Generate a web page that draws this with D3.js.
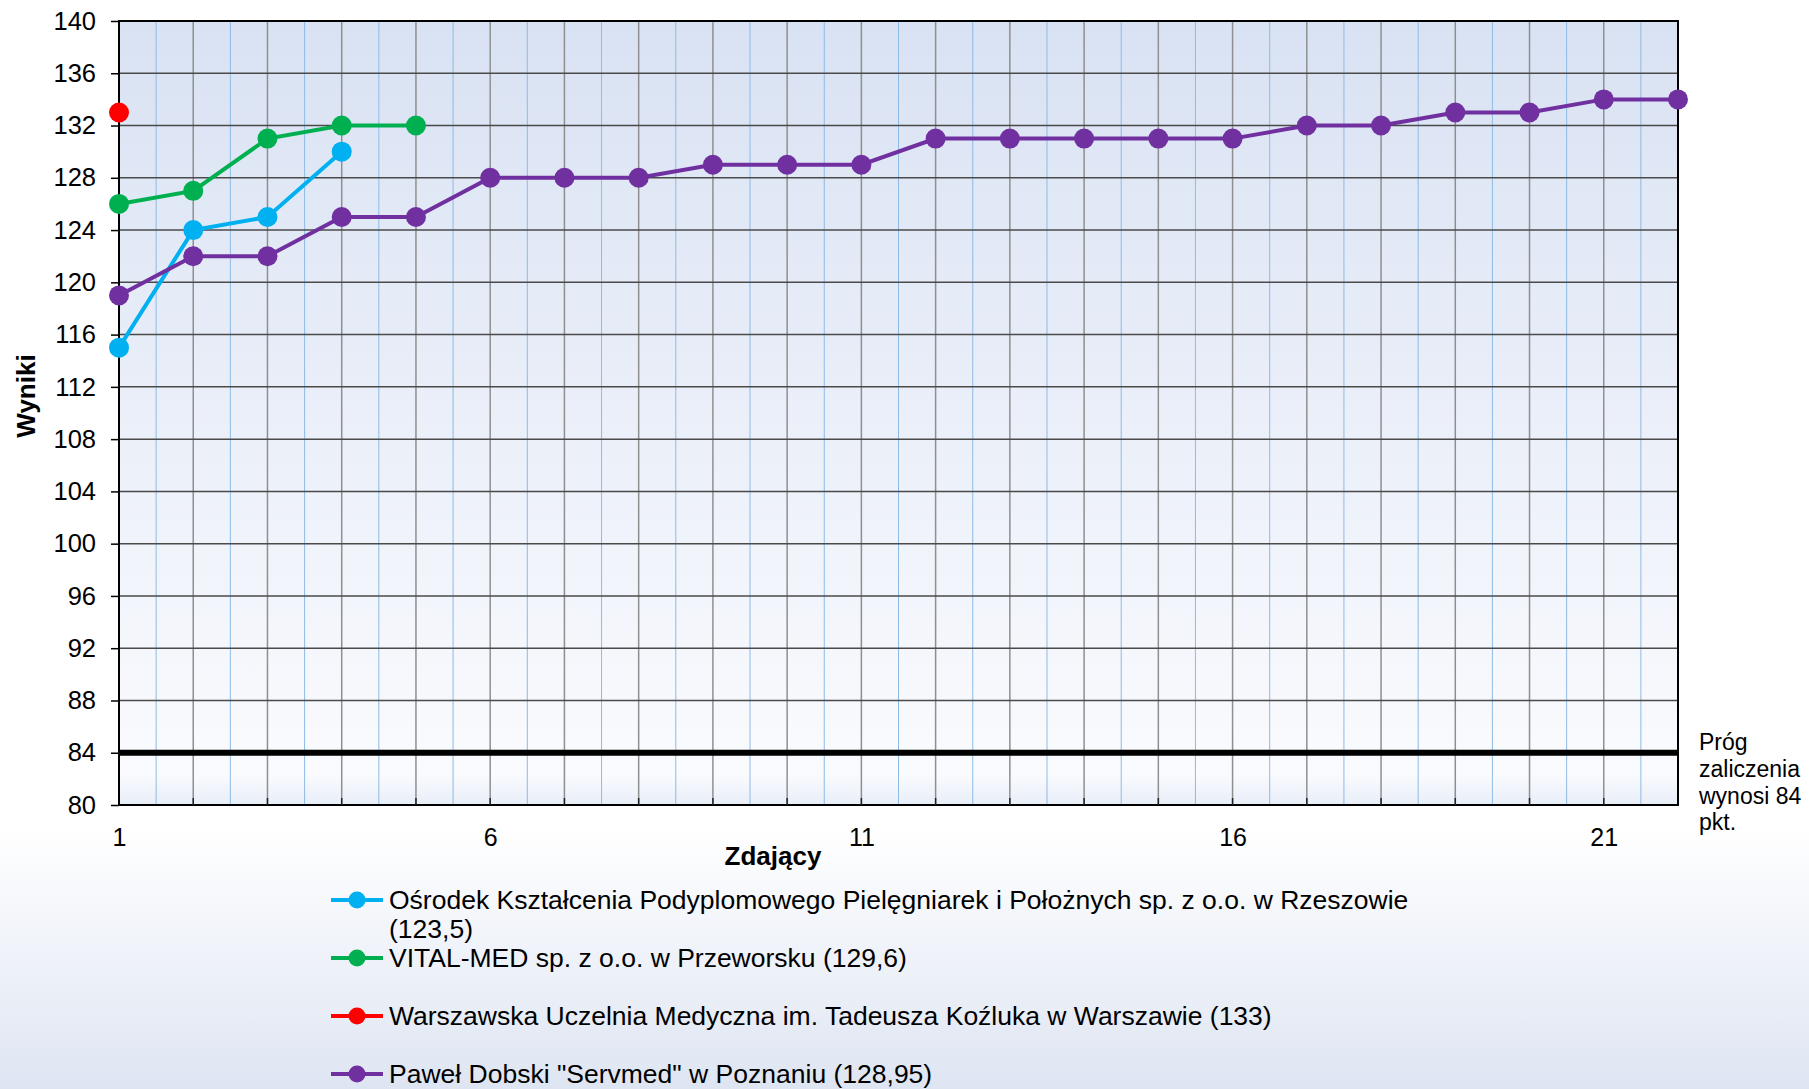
<!DOCTYPE html>
<html>
<head>
<meta charset="utf-8">
<script src="https://cdn.jsdelivr.net/npm/d3@7"></script>
<style>
  body { margin: 0; }
  svg { display: block; font-family: "Liberation Sans", Arial, sans-serif; }
</style>
</head>
<body>
<div class="chart"></div>
<script>
var w = 1809;
var h = 1089;

// data
var seriesNames = [
  "Ośrodek Kształcenia Podyplomowego Pielęgniarek i Położnych sp. z o.o. w Rzeszowie (123,5)",
  "VITAL-MED sp. z o.o. w Przeworsku (129,6)",
  "Warszawska Uczelnia Medyczna im. Tadeusza Koźluka w Warszawie (133)",
  "Paweł Dobski \"Servmed\" w Poznaniu (128,95)"
];
var seriesColors = ["#00b0f0", "#00b050", "#ff0000", "#7030a0"];
var osrodekValues = [115, 124, 125, 130];
var vitalValues = [126, 127, 131, 132, 132];
var wumValues = [133];
var servmedValues = [119, 122, 122, 125, 125, 128, 128, 128, 129, 129, 129, 131, 131, 131, 131, 131, 132, 132, 133, 133, 134, 134];
var xTicks = [1, 6, 11, 16, 21];
var yTicks = [80, 84, 88, 92, 96, 100, 104, 108, 112, 116, 120, 124, 128, 132, 136, 140];
var threshold = 84;
var thresholdLabel = ["Próg", "zaliczenia", "wynosi 84", "pkt."];

var allSeries = [osrodekValues, vitalValues, wumValues, servmedValues];

var margin = {left: 119, right: 131, top: 21, bottom: 284};
var pw = w - margin.left - margin.right;
var ph = h - margin.top - margin.bottom;

var svg = d3.select(".chart")
  .append("svg")
  .attr("width", w)
  .attr("height", h);

var defs = svg.append("defs");
var bgGrad = defs.append("linearGradient")
  .attr("id", "bgGrad").attr("x1", 0).attr("y1", 0).attr("x2", 0).attr("y2", 1);
bgGrad.append("stop").attr("offset", "0%").attr("stop-color", "#ffffff");
bgGrad.append("stop").attr("offset", "76%").attr("stop-color", "#ffffff");
bgGrad.append("stop").attr("offset", "100%").attr("stop-color", "#dee5f2");

var plotGrad = defs.append("linearGradient")
  .attr("id", "plotGrad").attr("x1", 0).attr("y1", 0).attr("x2", 0).attr("y2", 1);
plotGrad.append("stop").attr("offset", "0%").attr("stop-color", "#d9e2f3");
plotGrad.append("stop").attr("offset", "96%").attr("stop-color", "#fafbfe");
plotGrad.append("stop").attr("offset", "100%").attr("stop-color", "#e8eef8");

svg.append("rect")
  .attr("width", w)
  .attr("height", h)
  .attr("fill", "url(#bgGrad)");

var x = d3.scaleLinear().domain([1, 22]).range([margin.left, margin.left + pw]);
var y = d3.scaleLinear().domain([80, 140]).range([margin.top + ph, margin.top]);

svg.append("rect")
  .attr("x", x(1))
  .attr("y", y(140))
  .attr("width", pw)
  .attr("height", ph)
  .attr("fill", "url(#plotGrad)");

// minor vertical grid (half steps)
var minorX = d3.range(1.5, 22, 1);
svg.append("g").selectAll("line")
  .data(minorX)
  .enter().append("line")
  .attr("x1", function(d) { return x(d); })
  .attr("x2", function(d) { return x(d); })
  .attr("y1", y(140))
  .attr("y2", y(80))
  .attr("stroke", "#8dbbe6")
  .attr("stroke-width", 1);

// major vertical grid
var majorX = d3.range(2, 22, 1);
svg.append("g").selectAll("line")
  .data(majorX)
  .enter().append("line")
  .attr("x1", function(d) { return x(d); })
  .attr("x2", function(d) { return x(d); })
  .attr("y1", y(140))
  .attr("y2", y(80))
  .attr("stroke", "#8f8f8f")
  .attr("stroke-width", 1.5);

// horizontal grid
svg.append("g").selectAll("line")
  .data(yTicks.slice(1, -1))
  .enter().append("line")
  .attr("x1", x(1))
  .attr("x2", x(22))
  .attr("y1", function(d) { return y(d); })
  .attr("y2", function(d) { return y(d); })
  .attr("stroke", "#4a4a4a")
  .attr("stroke-width", 1.5);

// threshold line
svg.append("line")
  .attr("x1", x(1))
  .attr("x2", x(22))
  .attr("y1", y(threshold))
  .attr("y2", y(threshold))
  .attr("stroke", "#000000")
  .attr("stroke-width", 6);

// plot border
svg.append("rect")
  .attr("x", x(1))
  .attr("y", y(140))
  .attr("width", pw)
  .attr("height", ph)
  .attr("fill", "none")
  .attr("stroke", "#000000")
  .attr("stroke-width", 2);

// y axis
var yAxis = d3.axisLeft(y).tickValues(yTicks).tickSize(8).tickPadding(15);
var yg = svg.append("g")
  .attr("transform", "translate(" + x(1) + ",0)")
  .call(yAxis);
yg.select(".domain").remove();
yg.selectAll("line").attr("stroke", "#000").attr("stroke-width", 1.5);
yg.selectAll("text")
  .style("font-size", "25.5px")
  .style("font-family", "'Liberation Sans', Arial, sans-serif")
  .attr("fill", "#000");

// x axis
var xAxis = d3.axisBottom(x).tickValues(xTicks).tickSize(0).tickPadding(23);
var xg = svg.append("g")
  .attr("transform", "translate(0," + y(80) + ")")
  .call(xAxis);
xg.select(".domain").remove();
xg.selectAll("text")
  .style("font-size", "25px")
  .style("font-family", "'Liberation Sans', Arial, sans-serif")
  .attr("fill", "#000");

// small ticks on x axis at each integer
svg.append("g").selectAll("line")
  .data(d3.range(2, 22, 1))
  .enter().append("line")
  .attr("x1", function(d) { return x(d); })
  .attr("x2", function(d) { return x(d); })
  .attr("y1", y(80) - 7)
  .attr("y2", y(80))
  .attr("stroke", "#222")
  .attr("stroke-width", 1.5);

// axis titles
svg.append("text")
  .attr("x", 773)
  .attr("y", 865)
  .attr("text-anchor", "middle")
  .style("font-size", "26px")
  .attr("font-weight", "bold")
  .text("Zdający");

svg.append("text")
  .attr("transform", "translate(35,396) rotate(-90)")
  .attr("text-anchor", "middle")
  .style("font-size", "26px")
  .attr("font-weight", "bold")
  .text("Wyniki");

// threshold label
svg.append("g").selectAll("text")
  .data(thresholdLabel)
  .enter().append("text")
  .attr("x", 1699)
  .attr("y", function(d, i) { return 750 + i * 26.8; })
  .style("font-size", "23px")
  .text(function(d) { return d; });

// series
var line = d3.line()
  .x(function(d, i) { return x(i + 1); })
  .y(function(d) { return y(d); });

allSeries.forEach(function(vals, s) {
  var g = svg.append("g");
  g.append("path")
    .datum(vals)
    .attr("d", line)
    .attr("fill", "none")
    .attr("stroke", seriesColors[s])
    .attr("stroke-width", 4);
  g.selectAll("circle")
    .data(vals)
    .enter().append("circle")
    .attr("cx", function(d, i) { return x(i + 1); })
    .attr("cy", function(d) { return y(d); })
    .attr("r", 10)
    .attr("fill", seriesColors[s]);
});

// legend
var legendTop = 900;
var rowStep = 58;
var legend = svg.append("g");
seriesNames.forEach(function(name, i) {
  var ry = legendTop + i * rowStep;
  legend.append("line")
    .attr("x1", 331).attr("x2", 383)
    .attr("y1", ry).attr("y2", ry)
    .attr("stroke", seriesColors[i])
    .attr("stroke-width", 4);
  legend.append("circle")
    .attr("cx", 357).attr("cy", ry)
    .attr("r", 8.5)
    .attr("fill", seriesColors[i]);
  var t = legend.append("text")
    .attr("x", 389)
    .attr("y", ry + 9)
    .style("font-size", "26.5px")
    .attr("fill", "#000");
  // wrap long label
  var words = name.split(" ");
  var lineWords = [];
  var tspan = t.append("tspan").attr("x", 389).attr("dy", 0);
  words.forEach(function(word) {
    lineWords.push(word);
    tspan.text(lineWords.join(" "));
    if (tspan.node().getComputedTextLength() > 1060 && lineWords.length > 1) {
      lineWords.pop();
      tspan.text(lineWords.join(" "));
      lineWords = [word];
      tspan = t.append("tspan").attr("x", 389).attr("dy", 29).text(word);
    }
  });
});
</script>
</body>
</html>
